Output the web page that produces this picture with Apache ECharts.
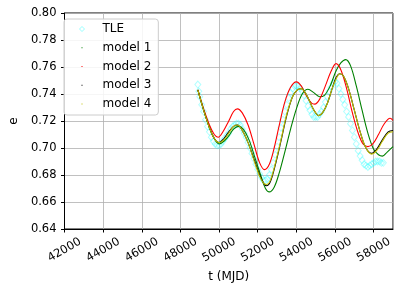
<!DOCTYPE html>
<html><head><meta charset="utf-8">
<script src="https://cdn.jsdelivr.net/npm/echarts@6/dist/echarts.min.js"></script>
<style>html,body{margin:0;padding:0;background:#fff}#c{width:399px;height:291px}</style>
</head><body><div id="c"></div>
<script>
const seriesNames = ['TLE', 'model 1', 'model 2', 'model 3', 'model 4'];
const xRange = [42000, 59000];
const yRange = [0.64, 0.80];

const tle = [
 [48900,0.747],[48950,0.742],[49000,0.738],[49100,0.732],[49200,0.727],[49300,0.721],[49400,0.716],[49500,0.712],
 [49600,0.708],[49700,0.705],[49800,0.703],[49900,0.702],[50000,0.702],[50100,0.703],[50200,0.705],[50300,0.707],
 [50400,0.709],[50500,0.711],[50600,0.714],[50700,0.716],[50800,0.717],[50900,0.718],[51000,0.718],[51100,0.717],
 [51200,0.714],[51300,0.711],[51400,0.708],[51500,0.704],[51600,0.700],[51700,0.696],[51800,0.692],[51900,0.688],
 [52000,0.684],[52100,0.681],[52200,0.678],[52300,0.676],[52400,0.676],[52500,0.677],[52600,0.680],[52700,0.684],
 [52800,0.689],[52900,0.695],[53000,0.701],[53100,0.708],[53200,0.715],[53300,0.721],[53400,0.727],[53500,0.732],
 [53600,0.737],[53700,0.741],[53800,0.744],[53900,0.746],[54000,0.746],[54100,0.746],[54200,0.744],[54300,0.742],
 [54400,0.739],[54500,0.735],[54600,0.731],[54700,0.728],[54800,0.725],[54900,0.723],[55000,0.723],[55100,0.723],
 [55200,0.725],[55300,0.727],[55400,0.730],[55500,0.734],[55600,0.738],[55700,0.742],[55800,0.745],[55900,0.748],
 [56000,0.749],[56100,0.748],[56200,0.744],[56300,0.740],[56400,0.736],[56500,0.732],[56600,0.727],[56700,0.723],
 [56800,0.718],[56900,0.713],[57000,0.708],[57100,0.703],[57200,0.698],[57300,0.694],[57400,0.691],[57500,0.688],
 [57600,0.687],[57700,0.686],[57800,0.687],[57900,0.688],[58000,0.689],[58100,0.690],[58200,0.690],[58300,0.690],
 [58400,0.689],[58500,0.689]
];

const model1 = [
 [48900,0.743],[49200,0.728],[49500,0.715],[49750,0.707],[50000,0.703],[50250,0.705],[50500,0.709],[50750,0.714],
 [51000,0.716],[51250,0.714],[51550,0.706],[51850,0.693],[52150,0.680],[52400,0.670],[52600,0.6675],[52850,0.671],
 [53100,0.681],[53400,0.697],[53700,0.714],[54000,0.729],[54300,0.740],[54600,0.7435],[54900,0.741],[55200,0.738],
 [55450,0.739],[55750,0.746],[56050,0.757],[56300,0.763],[56550,0.7655],[56800,0.761],[57100,0.746],[57400,0.728],
 [57700,0.711],[58000,0.699],[58250,0.695],[58450,0.694],[58700,0.697],[59000,0.701]
];

const model2 = [
 [48900,0.743],[49200,0.729],[49500,0.717],[49750,0.710],[49950,0.708],[50200,0.712],[50500,0.720],[50750,0.727],
 [50950,0.729],[51200,0.726],[51500,0.717],[51800,0.703],[52100,0.689],[52350,0.684],[52600,0.688],[52850,0.700],
 [53100,0.716],[53400,0.734],[53700,0.745],[54000,0.749],[54250,0.746],[54550,0.738],[54800,0.733],[54950,0.7325],
 [55200,0.736],[55500,0.746],[55800,0.757],[56050,0.7625],[56300,0.758],[56600,0.744],[56900,0.726],[57200,0.711],
 [57450,0.703],[57700,0.701],[57950,0.703],[58250,0.710],[58550,0.718],[58850,0.722],[59000,0.7205]
];

const model3 = [
 [48900,0.743],[49200,0.728],[49500,0.715],[49750,0.707],[50000,0.704],[50250,0.707],[50500,0.712],[50750,0.716],
 [50950,0.717],[51200,0.713],[51500,0.704],[51800,0.692],[52100,0.680],[52300,0.674],[52450,0.672],[52650,0.675],
 [52900,0.687],[53200,0.705],[53500,0.724],[53800,0.738],[54050,0.743],[54250,0.744],[54500,0.740],[54800,0.731],
 [55000,0.726],[55150,0.724],[55350,0.726],[55600,0.733],[55850,0.744],[56050,0.752],[56250,0.755],[56450,0.753],
 [56700,0.744],[57000,0.728],[57300,0.712],[57600,0.700],[57900,0.696],[58150,0.699],[58450,0.706],[58750,0.712],
 [59000,0.713]
];

const model4 = [
 [48900,0.743],[49200,0.728],[49500,0.715],[49750,0.707],[50000,0.704],[50250,0.706],[50500,0.711],[50750,0.716],
 [50950,0.717],[51200,0.713],[51500,0.704],[51800,0.691],[52100,0.679],[52300,0.674],[52450,0.673],[52650,0.676],
 [52900,0.688],[53200,0.706],[53500,0.725],[53800,0.738],[54050,0.743],[54250,0.744],[54500,0.740],[54800,0.731],
 [55000,0.726],[55150,0.724],[55350,0.726],[55600,0.733],[55850,0.744],[56050,0.751],[56250,0.755],[56450,0.753],
 [56700,0.744],[57000,0.728],[57300,0.712],[57600,0.700],[57900,0.6955],[58150,0.698],[58450,0.705],[58750,0.711],
 [59000,0.712]
];

const colors = ['rgba(0,255,255,0.38)', '#008000', '#ff0000', '#000000', '#bfbf00'];
const dotIcon = 'path://M0,0M10,10M4,4h2v2h-2z';
const font = 'DejaVu Sans';

const chart = echarts.init(document.getElementById('c'), null, {renderer: 'canvas'});
const lineSeries = (name, data, color) => ({
  name, type: 'line', data, smooth: 0.35, showSymbol: false, symbol: 'circle',
  lineStyle: {color, width: 1.1}, itemStyle: {color}, silent: true
});
chart.setOption({
  animation: false,
  grid: {left: 58, right: 6, top: 13, bottom: 62, show: true, borderColor: '#000', borderWidth: 1, backgroundColor: 'transparent'},
  legend: {
    orient: 'vertical', left: 64, top: 19, padding: [3, 7, 4, 15], itemGap: 4.75,
    itemWidth: 5, itemHeight: 5,
    backgroundColor: 'rgba(255,255,255,0.85)', borderColor: '#cccccc', borderWidth: 1, borderRadius: 3,
    textStyle: {fontFamily: font, fontSize: 12, color: '#000', lineHeight: 14, padding: [0, 0, 0, 13]},
    data: [
      {name: seriesNames[0], icon: 'diamond', itemStyle: {color: 'transparent', borderColor: 'rgba(0,255,255,0.5)', borderWidth: 1}},
      {name: seriesNames[1], icon: dotIcon},
      {name: seriesNames[2], icon: dotIcon},
      {name: seriesNames[3], icon: dotIcon},
      {name: seriesNames[4], icon: dotIcon}
    ]
  },
  xAxis: {
    type: 'value', min: xRange[0], max: xRange[1], interval: 2000,
    name: 't (MJD)', nameLocation: 'middle', nameGap: 40,
    nameTextStyle: {fontFamily: font, fontSize: 12, color: '#000'},
    axisLine: {show: true, lineStyle: {color: '#000', width: 1}},
    axisTick: {show: true, length: 3.5, lineStyle: {color: '#000'}},
    axisLabel: {rotate: 30, align: 'center', verticalAlign: 'middle', margin: 21, showMaxLabel: false,
      fontFamily: font, fontSize: 11.5, color: '#000', formatter: v => String(v)},
    splitLine: {show: true, lineStyle: {color: '#b0b0b0', width: 0.8}}
  },
  yAxis: {
    type: 'value', min: yRange[0], max: yRange[1], interval: 0.02,
    name: 'e', nameLocation: 'middle', nameGap: 40, nameRotate: 90,
    nameTextStyle: {fontFamily: font, fontSize: 12, color: '#000'},
    axisLine: {show: true, lineStyle: {color: '#000', width: 1}},
    axisTick: {show: true, length: 3.5, lineStyle: {color: '#000'}},
    axisLabel: {margin: 8, fontFamily: font, fontSize: 11.5, color: '#000', formatter: v => v.toFixed(2)},
    splitLine: {show: true, lineStyle: {color: '#b0b0b0', width: 0.8}}
  },
  series: [
    {name: seriesNames[0], type: 'scatter', data: tle, symbol: 'diamond', symbolSize: [6, 7], silent: true,
     itemStyle: {color: 'transparent', borderColor: colors[0], borderWidth: 1}},
    lineSeries(seriesNames[1], model1, colors[1]),
    lineSeries(seriesNames[2], model2, colors[2]),
    lineSeries(seriesNames[3], model3, colors[3]),
    lineSeries(seriesNames[4], model4, colors[4])
  ]
});
</script></body></html>
